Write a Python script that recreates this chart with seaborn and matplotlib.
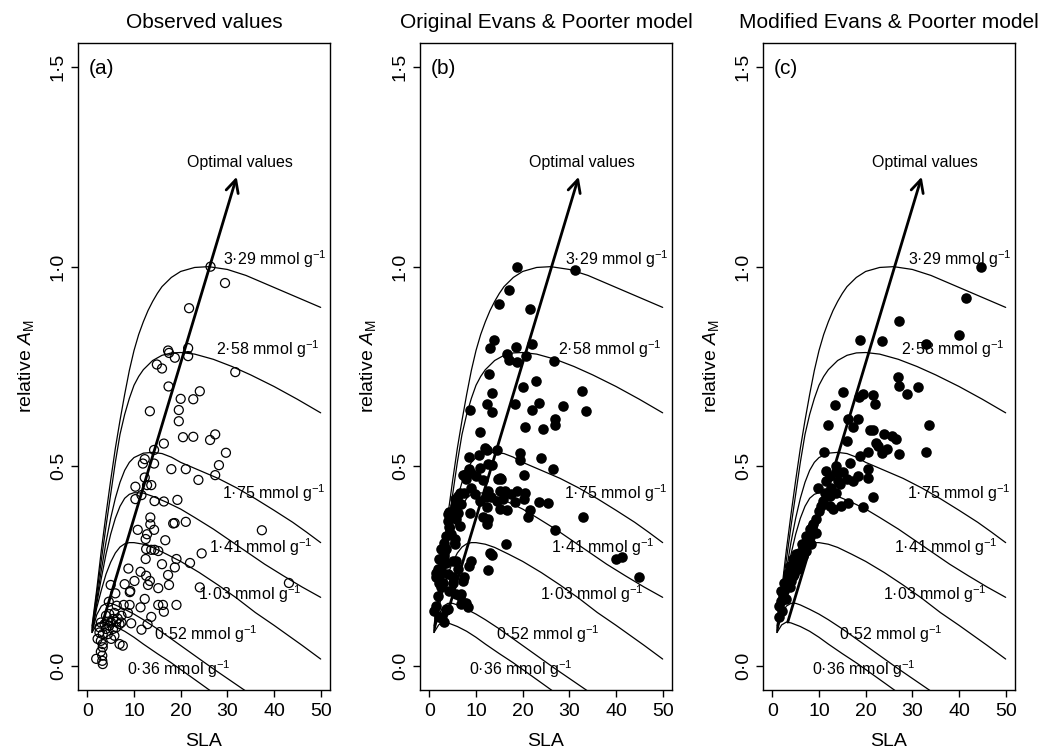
"""
Relative mass-based photosynthesis (A_M) against SLA: observed values vs.
original and modified Evans & Poorter model, with iso-N curves.
"""
import matplotlib
matplotlib.use("Agg")
import matplotlib.pyplot as plt
import seaborn as sns

sns.set_theme(style="ticks")
plt.rcParams.update({
    'font.family': ['Liberation Sans', 'DejaVu Sans'],
    'mathtext.fontset': 'custom',
    'mathtext.rm': 'Liberation Sans',
    'mathtext.it': 'Liberation Sans:italic',
    'axes.edgecolor': 'black',
    'axes.linewidth': 1.0,
    'xtick.color': 'black',
    'ytick.color': 'black',
    'text.color': 'black',
    'axes.labelcolor': 'black',
})

# ─────────────────────────────────────────────
# Iso-nitrogen curves
# ─────────────────────────────────────────────
sla_329 = [1, 2, 3, 4, 5, 6, 7, 8, 9, 10, 11, 12, 13, 14, 15, 16, 18, 20, 23, 26, 30, 34, 38, 42, 46, 50]
am_329 = [0.10, 0.19, 0.29, 0.38, 0.465, 0.545, 0.615, 0.68, 0.74, 0.79, 0.83, 0.862, 0.89, 0.913,
          0.933, 0.95, 0.973, 0.988, 0.998, 1.0, 0.993, 0.978, 0.958, 0.938, 0.918, 0.898]

sla_258 = [1, 2, 3, 4, 5, 6, 7, 8, 9, 10, 11, 12, 14, 16, 18, 20, 23, 27, 31, 35, 40, 45, 50]
am_258 = [0.095, 0.18, 0.265, 0.35, 0.43, 0.51, 0.58, 0.63, 0.67, 0.703, 0.725, 0.742, 0.765, 0.778,
          0.784, 0.785, 0.781, 0.768, 0.75, 0.729, 0.70, 0.668, 0.634]

sla_175 = [1, 2, 3, 4, 5, 6, 7, 8, 9, 10, 12, 14, 16, 18, 20, 24, 28, 32, 36, 40, 44, 47, 50]
am_175 = [0.09, 0.165, 0.24, 0.31, 0.37, 0.42, 0.46, 0.49, 0.51, 0.522, 0.533, 0.535, 0.532, 0.523,
          0.51, 0.49, 0.47, 0.446, 0.419, 0.39, 0.36, 0.335, 0.309]

sla_141 = [1, 2, 3, 4, 5, 6, 7, 8, 9, 10, 12, 14, 17, 20, 23, 27, 30, 34, 38, 42, 46, 50]
am_141 = [0.088, 0.155, 0.22, 0.28, 0.33, 0.37, 0.40, 0.42, 0.43, 0.434, 0.433, 0.425, 0.41, 0.393,
          0.372, 0.343, 0.319, 0.287, 0.255, 0.226, 0.198, 0.172]

sla_103 = [1, 2, 3, 4, 5, 6, 7, 8, 9, 10, 12, 14, 17, 20, 24, 28, 32, 36, 40, 43, 46, 50]
am_103 = [0.085, 0.145, 0.19, 0.23, 0.26, 0.283, 0.298, 0.306, 0.309, 0.309, 0.305, 0.297, 0.28,
          0.262, 0.234, 0.203, 0.17, 0.134, 0.102, 0.077, 0.052, 0.0175]

sla_052 = [1, 2, 3, 4, 5, 6, 8, 10, 12, 15, 18, 21, 24, 27, 30, 33, 34.5]
am_052 = [0.084, 0.128, 0.15, 0.157, 0.157, 0.153, 0.142, 0.13, 0.116, 0.093, 0.068, 0.043, 0.018,
          -0.007, -0.031, -0.055, -0.067]

sla_036 = [1, 2, 3, 4, 6, 8, 10, 12, 15, 18, 21, 24, 26.5]
am_036 = [0.084, 0.103, 0.11, 0.108, 0.099, 0.087, 0.072, 0.055, 0.031, 0.008, -0.017, -0.042, -0.063]

curve_labels = ['3·29', '2·58', '1·75', '1·41', '1·03', '0·52', '0·36']
label_sla = [40.1, 38.7, 40.0, 37.2, 34.7, 25.4, 19.6]
label_am = [1.018, 0.7925, 0.434, 0.297, 0.18, 0.08, -0.0075]

# optimal-values arrow (start, end)
arrow_sla = [3.3, 32.0]
arrow_am = [0.11, 1.225]

# ─────────────────────────────────────────────
# Panel (a): observed values
# ─────────────────────────────────────────────
obs_sla = [26.4, 29.5, 21.8, 21.6, 17.5, 17.3, 18.75, 21.6, 14.9, 16.0, 31.7, 17.4, 24.1, 20.0, 22.7,
           13.4, 19.6, 19.6, 20.5, 22.7, 26.3, 27.4, 16.4, 29.7, 14.3, 12.3, 11.9, 14.3, 18.0, 21.1,
           28.2, 27.4, 23.8, 12.3, 10.3, 12.8, 13.7, 10.3, 11.6, 14.4, 16.4, 19.3, 37.4, 43.2, 10.8,
           13.5, 13.5, 14.3, 12.8, 12.5, 18.4, 18.7, 21.1, 16.7, 12.6, 13.7, 14.4, 15.2, 24.5, 12.5,
           19.1, 22.0, 16.0, 8.8, 11.4, 18.75, 17.3, 12.6, 13.4, 10.1, 8.0, 13.0, 17.5, 5.0, 15.2,
           9.2, 9.1, 24.1, 6.0, 12.3, 4.6, 7.8, 9.05, 11.4, 15.2, 16.2, 19.1, 16.4, 6.3, 4.7,
           5.8, 8.7, 13.7, 12.9, 11.6, 9.4, 7.3, 2.9, 3.7, 4.4, 5.1, 5.5, 6.2, 6.5, 6.9,
           4.7, 4.0, 5.5, 6.2, 2.6, 3.3, 2.2, 2.9, 4.4, 5.8, 6.9, 7.6, 5.1, 3.3, 4.0,
           7.3, 2.6, 1.9, 3.2, 3.2, 3.3, 2.9, 3.3]
obs_am = [1.0, 0.959, 0.896, 0.796, 0.784, 0.79, 0.772, 0.776, 0.755, 0.745, 0.736, 0.70, 0.688, 0.669, 0.668,
          0.638, 0.641, 0.613, 0.573, 0.574, 0.566, 0.58, 0.557, 0.534, 0.541, 0.518, 0.507, 0.507, 0.493, 0.493,
          0.503, 0.478, 0.466, 0.472, 0.449, 0.453, 0.453, 0.418, 0.428, 0.413, 0.412, 0.416, 0.34, 0.208, 0.341,
          0.372, 0.355, 0.341, 0.33, 0.318, 0.357, 0.358, 0.361, 0.315, 0.293, 0.291, 0.291, 0.288, 0.282, 0.268,
          0.268, 0.258, 0.255, 0.244, 0.236, 0.247, 0.228, 0.226, 0.213, 0.213, 0.205, 0.203, 0.203, 0.203, 0.195,
          0.188, 0.185, 0.197, 0.182, 0.168, 0.161, 0.153, 0.153, 0.147, 0.153, 0.153, 0.153, 0.136, 0.151, 0.13,
          0.133, 0.133, 0.123, 0.105, 0.091, 0.107, 0.109, 0.109, 0.105, 0.111, 0.109, 0.118, 0.111, 0.119, 0.105,
          0.101, 0.093, 0.093, 0.097, 0.084, 0.08, 0.068, 0.063, 0.08, 0.076, 0.055, 0.051, 0.068, 0.055, 0.126,
          0.126, 0.097, 0.018, 0.026, 0.013, 0.005, 0.036, 0.047]

# ─────────────────────────────────────────────
# Panel (b): original Evans & Poorter model
# ─────────────────────────────────────────────
orig_sla = [18.7, 31.25, 17.0, 14.9, 21.55, 13.9, 13.1, 18.5, 22.1, 16.7, 17.1, 18.7, 20.7, 26.8, 12.8,
            22.8, 20.0, 13.5, 32.7, 12.35, 18.3, 23.4, 28.7, 8.8, 13.5, 21.9, 33.5, 26.9, 10.9, 20.4,
            24.4, 26.9, 11.85, 12.35, 14.6, 10.6, 8.5, 19.4, 19.5, 23.9, 26.4, 12.6, 13.5, 8.6, 20.3,
            15.1, 9.9, 7.8, 9.0, 11.5, 14.7, 15.45, 6.5, 6.1, 9.0, 9.7, 12.6, 15.1, 16.2,
            17.6, 18.7, 20.5, 20.3, 12.2, 13.3, 14.4, 15.8, 18.3, 23.6, 25.4, 10.8, 12.35, 15.1, 16.7,
            21.55, 5.4, 4.3, 6.1, 8.8, 11.4, 12.6, 21.2, 32.9, 3.95, 6.5, 12.35, 26.9, 4.7, 5.6,
            3.6, 3.2, 16.5, 12.9, 13.5, 39.9, 41.3, 44.9, 2.9, 2.5, 5.0, 6.1, 8.6, 9.0, 12.6,
            7.5, 5.0, 3.95, 2.15, 2.5, 4.3, 5.75, 6.8, 1.8, 6.8, 8.25, 7.9, 3.6, 2.15, 3.2,
            1.4, 1.1, 1.4, 1.8, 2.5, 2.15, 4.3, 5.75, 4.7, 6.8, 7.5, 7.9, 7.2, 10.8, 3.6,
            3.2, 3.95, 5.4, 5.4, 3.2, 3.6, 2.5, 5.75, 2.9, 5.0, 7.2, 6.5, 7.5, 3.95, 2.5,
            2.15, 1.4]
orig_am = [1.0, 0.991, 0.941, 0.907, 0.895, 0.8175, 0.797, 0.799, 0.806, 0.7825, 0.7675, 0.761, 0.7775, 0.765, 0.73,
           0.713, 0.699, 0.684, 0.688, 0.655, 0.655, 0.6575, 0.651, 0.641, 0.636, 0.64, 0.6375, 0.619, 0.586, 0.599,
           0.594, 0.603, 0.547, 0.541, 0.541, 0.5275, 0.523, 0.5325, 0.515, 0.521, 0.494, 0.505, 0.5025, 0.4925, 0.4775,
           0.472, 0.476, 0.48, 0.484, 0.466, 0.4675, 0.4675, 0.434, 0.426, 0.447, 0.43, 0.438, 0.438, 0.438,
           0.43, 0.438, 0.434, 0.419, 0.424, 0.422, 0.413, 0.419, 0.411, 0.411, 0.409, 0.413, 0.399, 0.394, 0.391,
           0.391, 0.401, 0.386, 0.384, 0.384, 0.372, 0.3675, 0.372, 0.372, 0.363, 0.351, 0.355, 0.34, 0.33, 0.3175,
           0.2925, 0.276, 0.305, 0.284, 0.2775, 0.2675, 0.272, 0.223, 0.259, 0.2425, 0.263, 0.2425, 0.251, 0.263, 0.24,
           0.222, 0.222, 0.23, 0.209, 0.197, 0.188, 0.18, 0.18, 0.176, 0.155, 0.147, 0.159, 0.141, 0.122, 0.111,
           0.151, 0.138, 0.222, 0.2425, 0.2925, 0.2675, 0.347, 0.3675, 0.376, 0.405, 0.434, 0.4675, 0.4775, 0.497, 0.326,
           0.309, 0.38, 0.4175, 0.305, 0.284, 0.259, 0.234, 0.263, 0.209, 0.209, 0.213, 0.176, 0.159, 0.1425, 0.122,
           0.2175, 0.234]

# ─────────────────────────────────────────────
# Panel (c): modified Evans & Poorter model
# ─────────────────────────────────────────────
mod_sla = [44.8, 41.6, 27.1, 39.9, 18.75, 23.6, 32.9, 27.0, 27.2, 31.3, 28.9, 15.2, 18.5, 19.5, 21.6,
           22.0, 13.5, 16.2, 18.4, 17.3, 12.0, 33.6, 20.9, 21.6, 23.9, 25.6, 26.4, 16.1, 22.2, 22.7,
           24.5, 23.4, 27.2, 33.0, 20.5, 18.75, 11.1, 11.4, 13.7, 16.6, 20.4, 14.1, 15.2, 20.5, 18.4,
           12.3, 14.1, 9.8, 21.6, 19.5, 16.2, 14.8, 13.0, 11.2, 12.3, 10.8, 13.7, 12.6, 14.4,
           15.9, 17.3, 11.6, 10.5, 12.3, 10.0, 9.3, 8.55, 9.3, 8.0, 7.3, 8.3, 6.5, 7.3, 5.8,
           6.5, 5.2, 6.0, 4.7, 4.0, 4.7, 3.3, 4.0, 2.95, 3.7, 2.6, 2.2, 1.9, 1.5, 2.95,
           2.1, 1.4, 4.4, 5.1, 5.45, 7.3, 8.0, 8.8, 3.3, 2.6, 1.9, 3.7, 6.4, 4.4]
mod_am = [0.999, 0.922, 0.865, 0.83, 0.8175, 0.8135, 0.8075, 0.724, 0.701, 0.698, 0.68, 0.687, 0.674, 0.68, 0.678,
          0.656, 0.653, 0.6175, 0.6175, 0.599, 0.603, 0.603, 0.59, 0.591, 0.582, 0.576, 0.5675, 0.563, 0.559, 0.551,
          0.5425, 0.534, 0.532, 0.536, 0.536, 0.526, 0.537, 0.488, 0.501, 0.5075, 0.4925, 0.484, 0.487, 0.472, 0.476,
          0.476, 0.463, 0.447, 0.424, 0.397, 0.409, 0.401, 0.3925, 0.434, 0.426, 0.413, 0.434, 0.447, 0.455,
          0.4675, 0.463, 0.463, 0.401, 0.401, 0.388, 0.3675, 0.347, 0.334, 0.322, 0.311, 0.305, 0.297, 0.288, 0.284,
          0.276, 0.2675, 0.259, 0.251, 0.238, 0.23, 0.222, 0.213, 0.205, 0.197, 0.188, 0.176, 0.163, 0.151, 0.1675,
          0.138, 0.122, 0.2675, 0.28, 0.2425, 0.326, 0.3425, 0.355, 0.234, 0.209, 0.188, 0.251, 0.305, 0.226]

titles = ['Observed values', 'Original Evans & Poorter model', 'Modified Evans & Poorter model']
panel_tags = ['(a)', '(b)', '(c)']
x_ticks = [0, 10, 20, 30, 40, 50]
y_ticks = [0.0, 0.5, 1.0, 1.5]
y_tick_labels = ['0·0', '0·5', '1·0', '1·5']

curves = [(sla_329, am_329), (sla_258, am_258), (sla_175, am_175), (sla_141, am_141),
          (sla_103, am_103), (sla_052, am_052), (sla_036, am_036)]
points = [(obs_sla, obs_am), (orig_sla, orig_am), (mod_sla, mod_am)]

fig = plt.figure(figsize=(10.52, 7.52), dpi=100)
lefts = [78 / 1052, 420 / 1052, 763 / 1052]
ax_w, ax_b, ax_h = 252 / 1052, 62 / 752, 647 / 752

for i, left in enumerate(lefts):
    ax = fig.add_axes([left, ax_b, ax_w, ax_h])

    for cx, cy in curves:
        sns.lineplot(x=cx, y=cy, ax=ax, color='black', lw=0.9, sort=False, estimator=None)

    px, py = points[i]
    if i == 0:
        sns.scatterplot(x=px, y=py, ax=ax, s=42, marker='o', color='none',
                        edgecolor='black', linewidth=0.9, zorder=3)
    else:
        sns.scatterplot(x=px, y=py, ax=ax, s=58, marker='o', color='black',
                        edgecolor='black', linewidth=0, zorder=3)

    # optimal values arrow
    ax.annotate('', xy=(arrow_sla[1], arrow_am[1]), xytext=(arrow_sla[0], arrow_am[0]),
                arrowprops=dict(arrowstyle='->,head_length=0.9,head_width=0.45', lw=2.0,
                                color='black', shrinkA=0, shrinkB=0, mutation_scale=10))
    ax.text(32.8, 1.26, 'Optimal values', ha='center', va='center', fontsize=11.5)

    for lab, lx, ly in zip(curve_labels, label_sla, label_am):
        ax.text(lx, ly, lab + ' mmol g$^{\\mathrm{-1}}$', ha='center', va='center', fontsize=11.5)

    ax.text(0.2, 1.497, panel_tags[i], ha='left', va='center', fontsize=15)

    ax.set_xlim(-2, 52)
    ax.set_ylim(-0.06, 1.56)
    ax.set_xticks(x_ticks)
    ax.set_yticks(y_ticks)
    ax.set_yticklabels(y_tick_labels, rotation=90, va='center')
    ax.tick_params(axis='both', direction='out', length=5, width=1.0, labelsize=14)
    ax.tick_params(axis='x', pad=4)
    ax.tick_params(axis='y', pad=3)
    for sp in ax.spines.values():
        sp.set_visible(True)
        sp.set_color('black')
        sp.set_linewidth(1.0)
    ax.set_xlabel('SLA', fontsize=14, labelpad=10)
    ax.set_ylabel('relative $\\mathit{A}_{\\mathrm{M}}$', fontsize=14, labelpad=10)
    ax.set_title(titles[i], fontsize=15, pad=11)

fig.savefig('out.png', dpi=100)
